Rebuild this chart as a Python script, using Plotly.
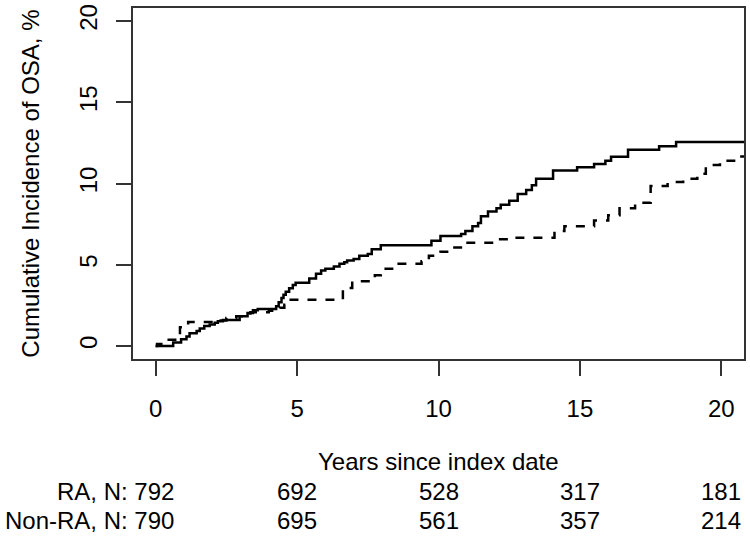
import plotly.graph_objects as go

# RA (solid) cumulative incidence step points
ra_t = [0, 0.62, 0.9, 1.09, 1.2, 1.45, 1.56, 1.72, 1.91, 2.09, 2.2, 2.38, 2.97, 3.25, 3.44, 3.61,
        4.26, 4.35, 4.45, 4.52, 4.6, 4.72, 4.85, 4.95, 5.43, 5.67, 5.85, 6.0, 6.3, 6.5, 6.67,
        6.77, 7.0, 7.2, 7.5, 7.64, 7.96, 9.75, 10.07, 10.8, 10.95, 11.2, 11.4, 11.5, 11.75,
        12.05, 12.2, 12.5, 12.8, 13.1, 13.3, 13.45, 14.05, 14.9, 15.5, 15.9, 16.1, 16.7, 17.8,
        18.4, 21.0]
ra_v = [0, 0.22, 0.42, 0.59, 0.79, 0.93, 1.07, 1.23, 1.33, 1.43, 1.53, 1.6, 1.83, 2.03, 2.2, 2.28,
        2.45, 2.7, 2.95, 3.15, 3.34, 3.55, 3.75, 3.9, 4.15, 4.45, 4.65, 4.75, 4.9, 5.06, 5.16,
        5.26, 5.36, 5.56, 5.66, 5.96, 6.2, 6.47, 6.77, 6.9, 7.07, 7.37, 7.57, 7.98, 8.28,
        8.48, 8.7, 8.94, 9.35, 9.6, 9.9, 10.3, 10.8, 11.0, 11.2, 11.4, 11.65, 12.07, 12.3,
        12.55, 12.55]

# Non-RA (dashed) cumulative incidence step points
nonra_t = [0, 0.05, 0.2, 0.86, 1.15, 2.3, 2.5, 2.85, 3.35, 4.0, 4.4, 4.55, 4.73, 6.62, 6.95,
           7.75, 7.96, 8.36, 9.4, 9.66, 10.07, 10.4, 10.95, 12.1, 12.7, 14.1, 14.45, 15.5,
           16.0, 16.4, 16.95, 17.5, 18.1, 18.65, 19.15, 19.45, 19.95, 20.45, 21.0]
nonra_v = [0, 0.12, 0.38, 1.15, 1.47, 1.57, 1.73, 1.83, 2.07, 2.17, 2.35, 2.54, 2.84, 3.57, 3.99,
           4.35, 4.75, 5.06, 5.21, 5.56, 5.8, 6.06, 6.36, 6.57, 6.66, 7.07, 7.37, 7.73,
           8.04, 8.48, 8.82, 9.85, 10.09, 10.29, 10.6, 11.14, 11.4, 11.66, 11.66]

tick_vals = [0, 5, 10, 15, 20]
risk_times = [5, 10, 15, 20]
ra_risk = ["692", "528", "317", "181"]
nonra_risk = ["695", "561", "357", "214"]
ra_label = "RA, N: 792"
nonra_label = "Non-RA, N: 790"

FONT = "Liberation Sans, Arial, Helvetica, sans-serif"
FS = 24

fig = go.Figure()
fig.add_trace(go.Scatter(x=ra_t, y=ra_v, mode="lines", line=dict(color="black", width=2.5, shape="hv"),
                         showlegend=False, hoverinfo="skip"))
fig.add_trace(go.Scatter(x=nonra_t, y=nonra_v, mode="lines",
                         line=dict(color="black", width=2.5, shape="hv", dash="9px,9px"),
                         showlegend=False, hoverinfo="skip"))

axis_common = dict(showline=True, linecolor="#333", linewidth=1.5, mirror=True, showgrid=False,
                   zeroline=False, ticks="outside", ticklen=15, tickwidth=1.5, tickcolor="#333",
                   tickfont=dict(family=FONT, size=FS, color="black"))
fig.update_xaxes(range=[-0.8, 20.8], tickvals=tick_vals, ticklabelstandoff=12, **axis_common)
fig.update_yaxes(range=[-0.8, 20.8], tickvals=tick_vals, tickangle=-90, ticklabelstandoff=10,
                 **axis_common)

annotations = [
    dict(text="Cumulative Incidence of OSA, %", xref="paper", yref="paper",
         x=(30 - 133) / 612, y=0.5, textangle=-90, showarrow=False,
         xanchor="center", yanchor="middle", font=dict(family=FONT, size=FS, color="black")),
    dict(text="Years since index date", xref="paper", yref="paper",
         x=0.5, y=(359 - 463) / 355, showarrow=False, xanchor="center", yanchor="middle",
         font=dict(family=FONT, size=FS, color="black")),
    dict(text=ra_label, xref="x", yref="paper", x=0.72, y=(359 - 493) / 355, showarrow=False,
         xanchor="right", yanchor="middle", font=dict(family=FONT, size=FS, color="black")),
    dict(text=nonra_label, xref="x", yref="paper", x=0.72, y=(359 - 522) / 355, showarrow=False,
         xanchor="right", yanchor="middle", font=dict(family=FONT, size=FS, color="black")),
]
for t, a, b in zip(risk_times, ra_risk, nonra_risk):
    annotations.append(dict(text=a, xref="x", yref="paper", x=t, y=(359 - 493) / 355, showarrow=False,
                            xanchor="center", yanchor="middle",
                            font=dict(family=FONT, size=FS, color="black")))
    annotations.append(dict(text=b, xref="x", yref="paper", x=t, y=(359 - 522) / 355, showarrow=False,
                            xanchor="center", yanchor="middle",
                            font=dict(family=FONT, size=FS, color="black")))

fig.update_layout(width=750, height=538, margin=dict(l=133, r=5, t=4, b=179),
                  plot_bgcolor="white", paper_bgcolor="white", annotations=annotations)

fig.write_html("out.html", config={"displayModeBar": False},
               post_script="document.body.style.margin='0';document.body.style.overflow='hidden';")
